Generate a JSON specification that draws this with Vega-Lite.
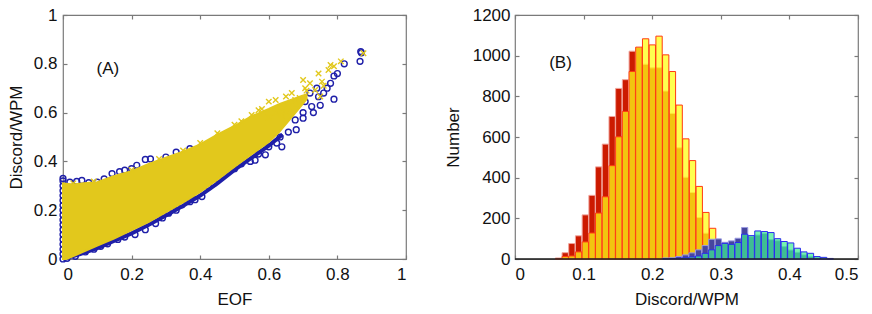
{
  "$schema": "https://vega.github.io/schema/vega-lite/v6.json",
  "background": "white",
  "padding": {"left": 6, "top": 5, "right": 5, "bottom": 4},
  "config": {
    "font": "Liberation Sans",
    "view": {"stroke": "#7a7a7a", "strokeWidth": 1.2},
    "axis": {
      "labelFont": "Liberation Sans", "titleFont": "Liberation Sans",
      "labelFontSize": 17, "titleFontSize": 17, "titleFontWeight": "normal",
      "labelColor": "#111111", "titleColor": "#111111",
      "grid": false, "domain": false, "tickColor": "#7a7a7a", "tickWidth": 1.2,
      "tickSize": 4, "offset": -4, "format": "~g"
    }
  },
  "datasets": {
    "band": [
      {"x": 0, "lo": 0.0, "hi": 0.31},
      {"x": 0.01, "lo": 0.0, "hi": 0.308},
      {"x": 0.03, "lo": 0.012, "hi": 0.305},
      {"x": 0.06, "lo": 0.03, "hi": 0.31},
      {"x": 0.1, "lo": 0.055, "hi": 0.315},
      {"x": 0.15, "lo": 0.085, "hi": 0.34},
      {"x": 0.2, "lo": 0.118, "hi": 0.36},
      {"x": 0.25, "lo": 0.152, "hi": 0.39},
      {"x": 0.3, "lo": 0.192, "hi": 0.415},
      {"x": 0.35, "lo": 0.232, "hi": 0.44},
      {"x": 0.4, "lo": 0.275, "hi": 0.47},
      {"x": 0.45, "lo": 0.325, "hi": 0.51},
      {"x": 0.5, "lo": 0.378, "hi": 0.545},
      {"x": 0.55, "lo": 0.43, "hi": 0.585},
      {"x": 0.6, "lo": 0.48, "hi": 0.615},
      {"x": 0.63, "lo": 0.52, "hi": 0.635},
      {"x": 0.66, "lo": 0.57, "hi": 0.65},
      {"x": 0.69, "lo": 0.62, "hi": 0.665},
      {"x": 0.71, "lo": 0.655, "hi": 0.675}
    ],
    "edge": [
      {"x": 0, "y": 0}, {"x": 0.05, "y": 0.02}, {"x": 0.1, "y": 0.045}, {"x": 0.15, "y": 0.075},
      {"x": 0.2, "y": 0.105}, {"x": 0.25, "y": 0.14}, {"x": 0.3, "y": 0.178}, {"x": 0.35, "y": 0.218},
      {"x": 0.4, "y": 0.26}, {"x": 0.45, "y": 0.31}, {"x": 0.5, "y": 0.365}, {"x": 0.55, "y": 0.415},
      {"x": 0.6, "y": 0.465}, {"x": 0.64, "y": 0.51}
    ],
    "blue": [
      {"x": 0, "y": 0}, {"x": 0, "y": 0.02}, {"x": 0, "y": 0.04}, {"x": 0, "y": 0.06}, {"x": 0, "y": 0.08},
      {"x": 0, "y": 0.1}, {"x": 0, "y": 0.12}, {"x": 0, "y": 0.14}, {"x": 0, "y": 0.16}, {"x": 0, "y": 0.18},
      {"x": 0, "y": 0.2}, {"x": 0, "y": 0.22}, {"x": 0, "y": 0.24}, {"x": 0, "y": 0.26}, {"x": 0, "y": 0.28},
      {"x": 0, "y": 0.3}, {"x": 0, "y": 0.32}, {"x": 0, "y": 0.33},
      {"x": 0.02, "y": 0.315}, {"x": 0.04, "y": 0.318}, {"x": 0.055, "y": 0.322}, {"x": 0.075, "y": 0.313},
      {"x": 0.1, "y": 0.315}, {"x": 0.12, "y": 0.328}, {"x": 0.143, "y": 0.35}, {"x": 0.165, "y": 0.358},
      {"x": 0.18, "y": 0.364}, {"x": 0.2, "y": 0.37}, {"x": 0.215, "y": 0.384}, {"x": 0.24, "y": 0.408},
      {"x": 0.255, "y": 0.41}, {"x": 0.3, "y": 0.418}, {"x": 0.33, "y": 0.438}, {"x": 0.37, "y": 0.452},
      {"x": 0.012, "y": 0.003}, {"x": 0.036, "y": 0.011}, {"x": 0.065, "y": 0.029}, {"x": 0.09, "y": 0.04},
      {"x": 0.11, "y": 0.052}, {"x": 0.13, "y": 0.062}, {"x": 0.16, "y": 0.08}, {"x": 0.18, "y": 0.09},
      {"x": 0.21, "y": 0.1}, {"x": 0.24, "y": 0.12}, {"x": 0.27, "y": 0.145}, {"x": 0.29, "y": 0.168},
      {"x": 0.308, "y": 0.188}, {"x": 0.33, "y": 0.2}, {"x": 0.347, "y": 0.222}, {"x": 0.37, "y": 0.235},
      {"x": 0.385, "y": 0.243}, {"x": 0.405, "y": 0.256}, {"x": 0.424, "y": 0.297}, {"x": 0.44, "y": 0.31},
      {"x": 0.453, "y": 0.33}, {"x": 0.48, "y": 0.36}, {"x": 0.5, "y": 0.37}, {"x": 0.52, "y": 0.39},
      {"x": 0.546, "y": 0.4}, {"x": 0.56, "y": 0.405}, {"x": 0.57, "y": 0.43}, {"x": 0.59, "y": 0.427},
      {"x": 0.6, "y": 0.46}, {"x": 0.623, "y": 0.475}, {"x": 0.638, "y": 0.46},
      {"x": 0.633, "y": 0.5}, {"x": 0.657, "y": 0.52}, {"x": 0.68, "y": 0.53}, {"x": 0.677, "y": 0.57},
      {"x": 0.7, "y": 0.577}, {"x": 0.7, "y": 0.6}, {"x": 0.73, "y": 0.6}, {"x": 0.75, "y": 0.63},
      {"x": 0.725, "y": 0.625}, {"x": 0.79, "y": 0.655}, {"x": 0.745, "y": 0.665}, {"x": 0.706, "y": 0.645},
      {"x": 0.77, "y": 0.7}, {"x": 0.78, "y": 0.72}, {"x": 0.79, "y": 0.75}, {"x": 0.8, "y": 0.76},
      {"x": 0.82, "y": 0.8}, {"x": 0.866, "y": 0.81}, {"x": 0.87, "y": 0.845}, {"x": 0.868, "y": 0.85},
      {"x": 0.76, "y": 0.68}, {"x": 0.74, "y": 0.7}, {"x": 0.72, "y": 0.68}
    ],
    "yellow": [
      {"x": 0.57, "y": 0.61}, {"x": 0.6, "y": 0.645}, {"x": 0.62, "y": 0.652}, {"x": 0.65, "y": 0.666},
      {"x": 0.667, "y": 0.68}, {"x": 0.7, "y": 0.734}, {"x": 0.72, "y": 0.72}, {"x": 0.745, "y": 0.76},
      {"x": 0.755, "y": 0.727}, {"x": 0.774, "y": 0.775}, {"x": 0.78, "y": 0.795}, {"x": 0.79, "y": 0.79},
      {"x": 0.81, "y": 0.81}, {"x": 0.876, "y": 0.843}, {"x": 0.75, "y": 0.666}, {"x": 0.735, "y": 0.693},
      {"x": 0.706, "y": 0.7}, {"x": 0.677, "y": 0.652}, {"x": 0.657, "y": 0.625}, {"x": 0.638, "y": 0.59},
      {"x": 0.69, "y": 0.66}, {"x": 0.71, "y": 0.69}, {"x": 0.76, "y": 0.71}, {"x": 0.64, "y": 0.62},
      {"x": 0.68, "y": 0.63}, {"x": 0.62, "y": 0.6}, {"x": 0.6, "y": 0.58}, {"x": 0.65, "y": 0.6},
      {"x": 0.4, "y": 0.475}, {"x": 0.45, "y": 0.515}, {"x": 0.5, "y": 0.55}, {"x": 0.52, "y": 0.565},
      {"x": 0.55, "y": 0.59}, {"x": 0.58, "y": 0.615}, {"x": 0.03, "y": 0.31}, {"x": 0.09, "y": 0.318},
      {"x": 0.2, "y": 0.365}, {"x": 0.28, "y": 0.41}, {"x": 0.35, "y": 0.445}
    ],
    "ry": [
      {"lo": 0.0588, "hi": 0.068, "red": 5, "yel": 0},
      {"lo": 0.0686, "hi": 0.0778, "red": 31, "yel": 12},
      {"lo": 0.0783, "hi": 0.0875, "red": 76, "yel": 15},
      {"lo": 0.0881, "hi": 0.0973, "red": 114, "yel": 35},
      {"lo": 0.0979, "hi": 0.1071, "red": 217, "yel": 84},
      {"lo": 0.1077, "hi": 0.1169, "red": 313, "yel": 128},
      {"lo": 0.1174, "hi": 0.1266, "red": 453, "yel": 226},
      {"lo": 0.1272, "hi": 0.1364, "red": 565, "yel": 306},
      {"lo": 0.137, "hi": 0.1462, "red": 701, "yel": 459},
      {"lo": 0.1467, "hi": 0.1559, "red": 839, "yel": 601},
      {"lo": 0.1565, "hi": 0.1657, "red": 882, "yel": 726},
      {"lo": 0.1663, "hi": 0.1755, "red": 1022, "yel": 922},
      {"lo": 0.176, "hi": 0.1852, "red": 1040, "yel": 1042},
      {"lo": 0.1858, "hi": 0.195, "red": 958, "yel": 1083},
      {"lo": 0.1956, "hi": 0.2048, "red": 940, "yel": 1053},
      {"lo": 0.2054, "hi": 0.2146, "red": 941, "yel": 1096},
      {"lo": 0.2151, "hi": 0.2243, "red": 826, "yel": 1004},
      {"lo": 0.2249, "hi": 0.2341, "red": 716, "yel": 922},
      {"lo": 0.2347, "hi": 0.2439, "red": 547, "yel": 757},
      {"lo": 0.2444, "hi": 0.2536, "red": 402, "yel": 591},
      {"lo": 0.2542, "hi": 0.2634, "red": 327, "yel": 484},
      {"lo": 0.264, "hi": 0.2732, "red": 204, "yel": 357},
      {"lo": 0.2737, "hi": 0.2829, "red": 127, "yel": 229},
      {"lo": 0.2835, "hi": 0.2927, "red": 85, "yel": 151},
      {"lo": 0.2933, "hi": 0.3025, "red": 10, "yel": 20}
    ],
    "ng": [
      {"lo": 0.2151, "hi": 0.2241, "navy": 5, "green": 1},
      {"lo": 0.2247, "hi": 0.2337, "navy": 6, "green": 2},
      {"lo": 0.2343, "hi": 0.2433, "navy": 12, "green": 4},
      {"lo": 0.2439, "hi": 0.2529, "navy": 20, "green": 6},
      {"lo": 0.2535, "hi": 0.2625, "navy": 30, "green": 10},
      {"lo": 0.2631, "hi": 0.2721, "navy": 45, "green": 15},
      {"lo": 0.2727, "hi": 0.2817, "navy": 66, "green": 28},
      {"lo": 0.2823, "hi": 0.2913, "navy": 97, "green": 45},
      {"lo": 0.2919, "hi": 0.3009, "navy": 99, "green": 66},
      {"lo": 0.3015, "hi": 0.3105, "navy": 82, "green": 77},
      {"lo": 0.3111, "hi": 0.3201, "navy": 89, "green": 72},
      {"lo": 0.3207, "hi": 0.3297, "navy": 102, "green": 81},
      {"lo": 0.3303, "hi": 0.3393, "navy": 155, "green": 122},
      {"lo": 0.3399, "hi": 0.3489, "navy": 110, "green": 115},
      {"lo": 0.3495, "hi": 0.3585, "navy": 118, "green": 138},
      {"lo": 0.3591, "hi": 0.3681, "navy": 125, "green": 135},
      {"lo": 0.3687, "hi": 0.3777, "navy": 95, "green": 130},
      {"lo": 0.3783, "hi": 0.3873, "navy": 90, "green": 100},
      {"lo": 0.3879, "hi": 0.3969, "navy": 61, "green": 86},
      {"lo": 0.3975, "hi": 0.4065, "navy": 44, "green": 79},
      {"lo": 0.4071, "hi": 0.4161, "navy": 33, "green": 53},
      {"lo": 0.4167, "hi": 0.4257, "navy": 20, "green": 35},
      {"lo": 0.4263, "hi": 0.4353, "navy": 12, "green": 28},
      {"lo": 0.4359, "hi": 0.4449, "navy": 6, "green": 12},
      {"lo": 0.4455, "hi": 0.4545, "navy": 3, "green": 8},
      {"lo": 0.4551, "hi": 0.4641, "navy": 3, "green": 0}
    ]
  },
  "spacing": 109,
  "bounds": "flush",
  "hconcat": [
    {
      "width": 343, "height": 244,
      "layer": [
        {
          "data": {"name": "edge"},
          "mark": {"type": "line", "color": "#1f1fa8", "strokeWidth": 4},
          "encoding": {
            "x": {"field": "x", "type": "quantitative", "scale": {"domain": [0, 1], "nice": false},
                  "axis": {"values": [0, 0.2, 0.4, 0.6, 0.8, 1], "title": "EOF", "labelPadding": 7, "titlePadding": 9}},
            "y": {"field": "y", "type": "quantitative", "scale": {"domain": [0, 1], "nice": false},
                  "axis": {"values": [0, 0.2, 0.4, 0.6, 0.8, 1], "title": "Discord/WPM", "labelPadding": 6, "titlePadding": 8}}
          }
        },
        {
          "data": {"name": "blue"},
          "mark": {"type": "point", "shape": "circle", "filled": false, "color": "#1f1fa8", "size": 34, "strokeWidth": 1.4, "opacity": 1},
          "encoding": {
            "x": {"field": "x", "type": "quantitative", "scale": {"domain": [0, 1]}, "axis": null},
            "y": {"field": "y", "type": "quantitative", "scale": {"domain": [0, 1]}, "axis": null}
          }
        },
        {
          "data": {"name": "band"},
          "mark": {"type": "area", "color": "#e2c81c", "stroke": "#e2c81c", "strokeWidth": 2},
          "encoding": {
            "x": {"field": "x", "type": "quantitative", "scale": {"domain": [0, 1]}, "axis": null},
            "y": {"field": "lo", "type": "quantitative", "scale": {"domain": [0, 1]}, "axis": null},
            "y2": {"field": "hi"}
          }
        },
        {
          "data": {"name": "yellow"},
          "mark": {"type": "point", "shape": "M-1,-1L1,1M-1,1L1,-1", "filled": false, "color": "#e2c81c", "size": 30, "strokeWidth": 1.4, "opacity": 1},
          "encoding": {
            "x": {"field": "x", "type": "quantitative", "scale": {"domain": [0, 1]}, "axis": null},
            "y": {"field": "y", "type": "quantitative", "scale": {"domain": [0, 1]}, "axis": null}
          }
        },
        {
          "data": {"values": [{"x": 0.131, "y": 0.78, "label": "(A)"}]},
          "mark": {"type": "text", "fontSize": 17, "font": "Liberation Sans", "color": "#111111", "align": "center", "baseline": "middle"},
          "encoding": {
            "x": {"field": "x", "type": "quantitative", "scale": {"domain": [0, 1]}, "axis": null},
            "y": {"field": "y", "type": "quantitative", "scale": {"domain": [0, 1]}, "axis": null},
            "text": {"field": "label"}
          }
        },
        {
          "data": {"name": "edge"},
          "mark": {"type": "point", "opacity": 0},
          "encoding": {
            "x": {"field": "x", "type": "quantitative", "scale": {"domain": [0, 1]},
                  "axis": {"orient": "top", "values": [0, 0.2, 0.4, 0.6, 0.8, 1], "labels": false, "title": null}},
            "y": {"field": "y", "type": "quantitative", "scale": {"domain": [0, 1]},
                  "axis": {"orient": "right", "values": [0, 0.2, 0.4, 0.6, 0.8, 1], "labels": false, "title": null}}
          }
        }
      ],
      "resolve": {"axis": {"x": "independent", "y": "independent"}}
    },
    {
      "width": 343, "height": 244,
      "layer": [
        {
          "data": {"name": "ry"},
          "mark": {"type": "bar", "color": "#cc1a00", "stroke": "#f0a39a", "strokeWidth": 1},
          "encoding": {
            "x": {"field": "lo", "type": "quantitative", "scale": {"domain": [0, 0.5], "nice": false},
                  "axis": {"values": [0, 0.1, 0.2, 0.3, 0.4, 0.5], "title": "Discord/WPM", "labelPadding": 7, "titlePadding": 9}},
            "x2": {"field": "hi"},
            "y": {"field": "red", "type": "quantitative", "scale": {"domain": [0, 1200], "nice": false},
                  "axis": {"values": [0, 200, 400, 600, 800, 1000, 1200], "format": "d", "title": "Number", "labelPadding": 5, "titlePadding": 10}},
            "y2": {"datum": 0}
          }
        },
        {
          "data": {"name": "ry"},
          "mark": {"type": "bar", "color": "#ffff14", "fillOpacity": 0.75, "stroke": "#ff3a12", "strokeWidth": 1},
          "encoding": {
            "x": {"field": "lo", "type": "quantitative", "scale": {"domain": [0, 0.5]}, "axis": null},
            "x2": {"field": "hi"},
            "y": {"field": "yel", "type": "quantitative", "scale": {"domain": [0, 1200]}, "axis": null},
            "y2": {"datum": 0}
          }
        },
        {
          "data": {"name": "ng"},
          "mark": {"type": "bar", "color": "#46469e", "stroke": "#9a9ae0", "strokeWidth": 1},
          "encoding": {
            "x": {"field": "lo", "type": "quantitative", "scale": {"domain": [0, 0.5]}, "axis": null},
            "x2": {"field": "hi"},
            "y": {"field": "navy", "type": "quantitative", "scale": {"domain": [0, 1200]}, "axis": null},
            "y2": {"datum": 0}
          }
        },
        {
          "data": {"name": "ng"},
          "mark": {"type": "bar", "color": "#3cf08e", "fillOpacity": 0.7, "stroke": "#2a2af0", "strokeWidth": 1},
          "encoding": {
            "x": {"field": "lo", "type": "quantitative", "scale": {"domain": [0, 0.5]}, "axis": null},
            "x2": {"field": "hi"},
            "y": {"field": "green", "type": "quantitative", "scale": {"domain": [0, 1200]}, "axis": null},
            "y2": {"datum": 0}
          }
        },
        {
          "data": {"values": [{"x": 0, "x2": 0.5, "y": 0}]},
          "mark": {"type": "rule", "color": "#222222", "strokeWidth": 1.5},
          "encoding": {
            "x": {"field": "x", "type": "quantitative", "scale": {"domain": [0, 0.5]}, "axis": null},
            "x2": {"field": "x2"},
            "y": {"field": "y", "type": "quantitative", "scale": {"domain": [0, 1200]}, "axis": null}
          }
        },
        {
          "data": {"values": [{"x": 0.0663, "y": 965, "label": "(B)"}]},
          "mark": {"type": "text", "fontSize": 17, "font": "Liberation Sans", "color": "#111111", "align": "center", "baseline": "middle"},
          "encoding": {
            "x": {"field": "x", "type": "quantitative", "scale": {"domain": [0, 0.5]}, "axis": null},
            "y": {"field": "y", "type": "quantitative", "scale": {"domain": [0, 1200]}, "axis": null},
            "text": {"field": "label"}
          }
        },
        {
          "data": {"name": "ry"},
          "mark": {"type": "point", "opacity": 0},
          "encoding": {
            "x": {"field": "lo", "type": "quantitative", "scale": {"domain": [0, 0.5]},
                  "axis": {"orient": "top", "values": [0, 0.1, 0.2, 0.3, 0.4, 0.5], "labels": false, "title": null}},
            "y": {"field": "red", "type": "quantitative", "scale": {"domain": [0, 1200]},
                  "axis": {"orient": "right", "values": [0, 200, 400, 600, 800, 1000, 1200], "labels": false, "title": null}}
          }
        }
      ],
      "resolve": {"axis": {"x": "independent", "y": "independent"}}
    }
  ]
}
